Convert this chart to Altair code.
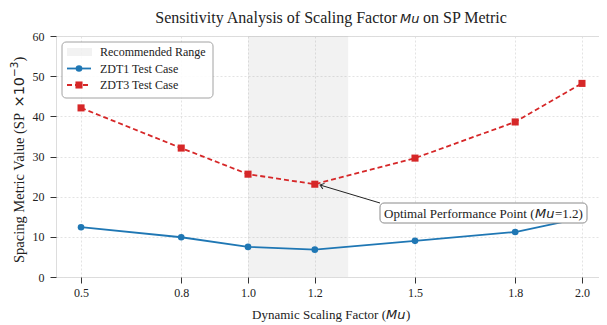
import altair as alt
import pandas as pd

# ---------------- data ----------------
mu = [0.5, 0.8, 1.0, 1.2, 1.5, 1.8, 2.0]
zdt1 = [12.4, 9.9, 7.5, 6.8, 9.0, 11.2, 14.7]
zdt3 = [42.1, 32.1, 25.6, 23.1, 29.6, 38.6, 48.2]
y_ticks = [0, 10, 20, 30, 40, 50, 60]
rec_range = [1.0, 1.3]
series_names = ["ZDT1 Test Case", "ZDT3 Test Case"]
range_name = "Recommended Range"

BLUE = "#1f77b4"
RED = "#d62728"
SERIF = "Liberation Serif"
MATH = "DejaVu Sans"

W, H = 543, 241
xs = alt.Scale(domain=[0.425, 2.051], nice=False, zero=False)
ys = alt.Scale(domain=[0, 60], nice=False, zero=False)

axis_common = dict(labelFont=SERIF, labelFontSize=12, labelColor="#222",
                   tickColor="#333", tickSize=6, tickWidth=1, domain=False,
                   grid=True, gridColor="#dcdcdc", gridDash=[2, 2], gridWidth=0.8,
                   title=None)
x_axis = alt.Axis(values=mu, format=".1f", labelPadding=4, **axis_common)
y_axis = alt.Axis(values=y_ticks, format="d", labelPadding=6, **axis_common)


def X(field="mu"):
    return alt.X(f"{field}:Q", scale=xs, axis=x_axis)


def Y(field="sp"):
    return alt.Y(f"{field}:Q", scale=ys, axis=y_axis)


one = pd.DataFrame({"k": [0]})

# shaded recommended range
shade_df = pd.DataFrame({"mu": [rec_range[0]], "mu2": [rec_range[1]],
                         "sp": [0], "sp2": [60]})
shade = alt.Chart(shade_df).mark_rect(color="#9a9a9a", opacity=0.13).encode(
    x=X(), x2="mu2:Q", y=Y(), y2="sp2:Q")

d1 = pd.DataFrame({"mu": mu, "sp": zdt1})
d3 = pd.DataFrame({"mu": mu, "sp": zdt3})

l1 = alt.Chart(d1).mark_line(color=BLUE, strokeWidth=1.8).encode(x=X(), y=Y())
p1 = alt.Chart(d1).mark_point(shape="circle", filled=True, color=BLUE,
                              size=44, opacity=1).encode(x=X(), y=Y())
l3 = alt.Chart(d3).mark_line(color=RED, strokeWidth=1.8,
                             strokeDash=[5, 3]).encode(x=X(), y=Y())
p3 = alt.Chart(d3).mark_point(shape="square", filled=True, color=RED,
                              size=50, opacity=1).encode(x=X(), y=Y())


def txt(text, x, y, size=13, font=SERIF, align="left", baseline="alphabetic",
        italic=False, angle=0, color="#222"):
    kw = dict(text=text, font=font, fontSize=size, align=align,
              baseline=baseline, color=color)
    if italic:
        kw["fontStyle"] = "italic"
    if angle:
        kw["angle"] = angle
    return alt.Chart(one).mark_text(**kw).encode(x=alt.value(x), y=alt.value(y))


# annotation
arrow_line = alt.Chart(one).mark_rule(color="#222", strokeWidth=1).encode(
    x=alt.value(324), y=alt.value(167), x2=alt.value(265), y2=alt.value(149.3))
arrow_head = alt.Chart(one).mark_point(
    shape="M-1,-0.75L0,0L-1,0.75", filled=False, color="#222", strokeWidth=1,
    size=60, angle=197, opacity=1).encode(x=alt.value(264), y=alt.value(149))
ann_box = alt.Chart(one).mark_rect(fill="white", stroke="#8a8a8a", strokeWidth=1,
                                   cornerRadius=4).encode(
    x=alt.value(324), x2=alt.value(531), y=alt.value(167), y2=alt.value(187))
ann_t1 = txt("Optimal Performance Point (", 328, 181.5)
ann_t2 = txt("Mu", 479, 181.5, font=MATH, italic=True)
ann_t3 = txt("=1.2)", 499, 181.5)

# legend
leg_box = alt.Chart(one).mark_rect(fill="white", stroke="#9a9a9a", strokeWidth=1,
                                   cornerRadius=4, opacity=0.9).encode(
    x=alt.value(6), x2=alt.value(157), y=alt.value(6), y2=alt.value(62))
leg_patch = alt.Chart(one).mark_rect(color="#9a9a9a", opacity=0.13).encode(
    x=alt.value(11), x2=alt.value(36), y=alt.value(12), y2=alt.value(20))
leg_l1 = alt.Chart(one).mark_rule(color=BLUE, strokeWidth=1.8).encode(
    x=alt.value(11), x2=alt.value(35), y=alt.value(32.5))
leg_p1 = alt.Chart(one).mark_point(shape="circle", filled=True, color=BLUE,
                                   size=44, opacity=1).encode(
    x=alt.value(23), y=alt.value(32.5))
leg_l3 = alt.Chart(one).mark_rule(color=RED, strokeWidth=1.8,
                                  strokeDash=[5, 3]).encode(
    x=alt.value(11), x2=alt.value(35), y=alt.value(49))
leg_p3 = alt.Chart(one).mark_point(shape="square", filled=True, color=RED,
                                   size=50, opacity=1).encode(
    x=alt.value(23), y=alt.value(49))
leg_t0 = txt(range_name, 44, 16, size=12, baseline="middle")
leg_t1 = txt(series_names[0], 44, 32.5, size=12, baseline="middle")
leg_t3 = txt(series_names[1], 44, 49, size=12, baseline="middle")

# titles
t_a = txt("Sensitivity Analysis of Scaling Factor", 341, -13, size=16, align="right")
t_b = txt("Mu", 344, -13, size=13, font=MATH, italic=True)
t_c = txt("on SP Metric", 367, -13, size=16)

x_a = txt("Dynamic Scaling Factor (", 330, 283, size=13, align="right")
x_b = txt("Mu", 330, 283, size=13, font=MATH, italic=True)
x_c = txt(")", 350, 283, size=13)

# y title, rotated, built from pieces running bottom -> top
YB = -32  # baseline x
y_a = txt("Spacing Metric Value (SP ", YB, 227, size=14.5, angle=270)
y_b = txt("\u00d710", YB, 71.5, size=14.5, font=MATH, angle=270)
y_c = txt("\u22123", YB - 6, 41, size=10.5, font=MATH, angle=270)
y_d = txt(")", YB, 25.5, size=14.5, angle=270)

chart = alt.layer(
    shade, l1, p1, l3, p3,
    arrow_line, arrow_head, ann_box, ann_t1, ann_t2, ann_t3,
    leg_box, leg_patch, leg_l1, leg_p1, leg_l3, leg_p3, leg_t0, leg_t1, leg_t3,
    t_a, t_b, t_c, x_a, x_b, x_c, y_a, y_b, y_c, y_d,
).properties(
    width=W, height=H,
    autosize=alt.AutoSizeParams(type="none"),
    padding={"left": 48, "top": 28, "right": 0, "bottom": 46},
).configure_view(stroke="#333", strokeWidth=1.2).configure(background="white")

chart.save("out.html", embed_options={"renderer": "svg", "actions": False})
